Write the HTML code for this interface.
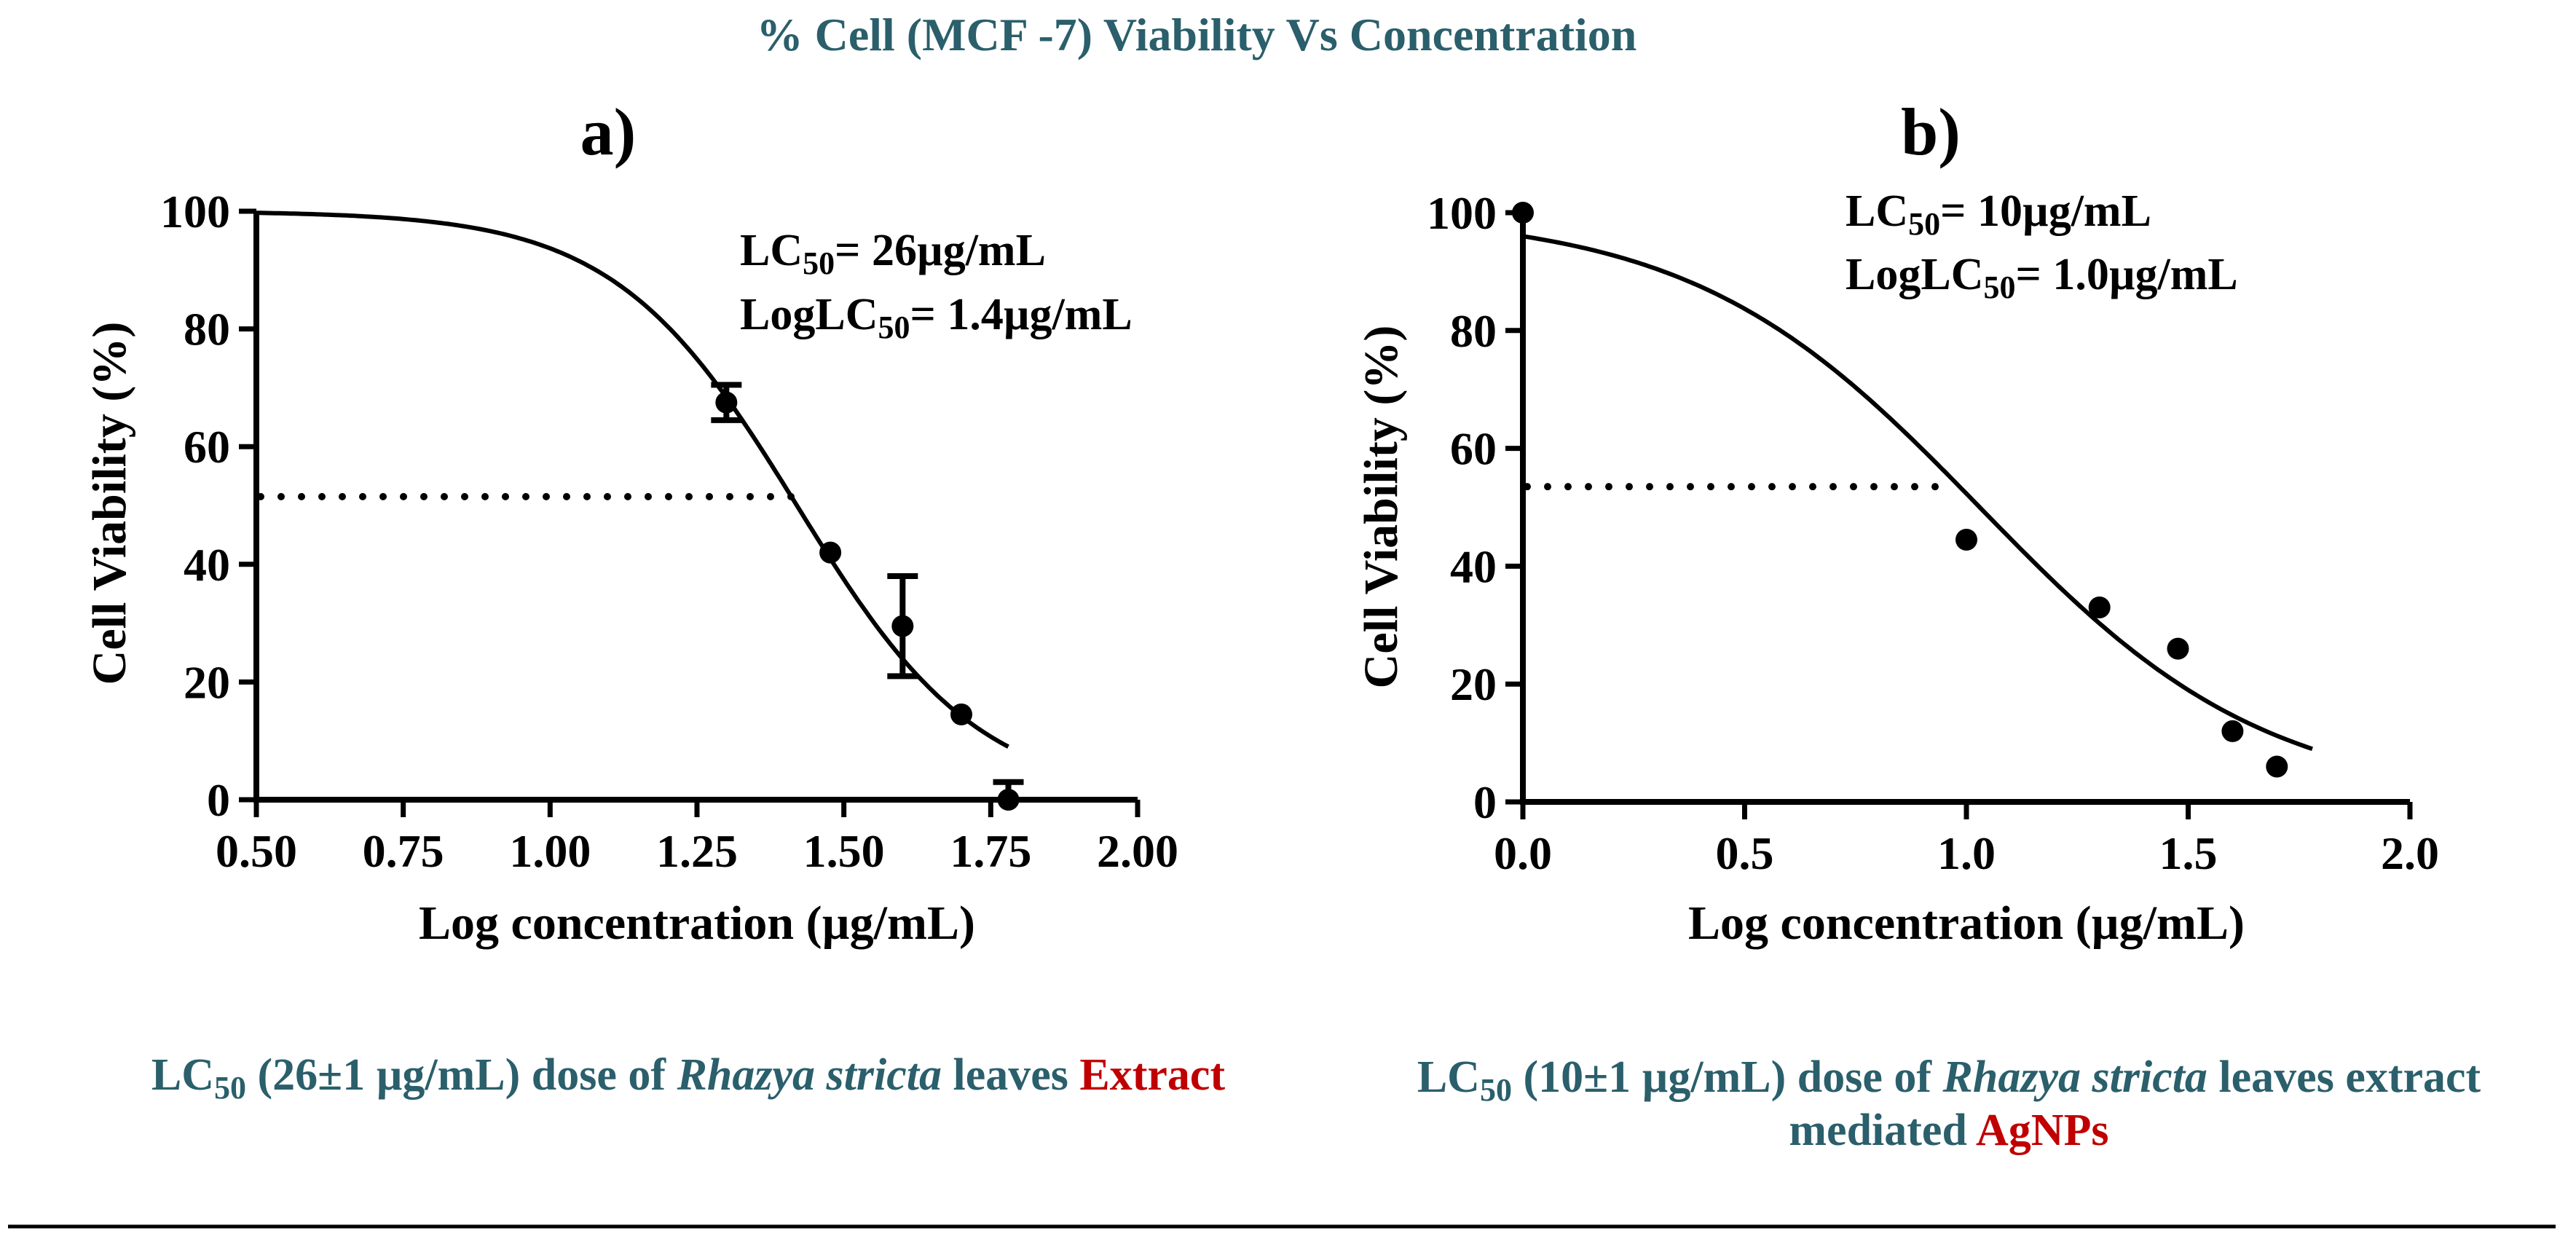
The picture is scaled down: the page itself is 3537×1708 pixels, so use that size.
<!DOCTYPE html>
<html><head><meta charset="utf-8"><style>
html,body{margin:0;padding:0;background:#fff;}
svg, svg text{font-family:"Liberation Serif","Times New Roman",serif;font-weight:bold;}
</style></head><body>
<svg id="fig" width="3537" height="1703" viewBox="0 0 3537 1703" font-family="Liberation Serif, serif" font-weight="bold">
<text x="1643" y="69" text-anchor="middle" font-size="64" fill="#2a5f6b">% Cell (MCF -7) Viability Vs Concentration</text>
<text x="835" y="212" text-anchor="middle" font-size="92" fill="#000">a)</text>
<text x="2651" y="212" text-anchor="middle" font-size="92" fill="#000">b)</text>
<g id="chartA"></g>
<g id="chartB"></g>
<text x="1016" y="364" font-size="62">LC<tspan font-size="44" dy="12">50</tspan><tspan dy="-12">= 26µg/mL</tspan></text>
<text x="1016" y="452" font-size="62">LogLC<tspan font-size="44" dy="12">50</tspan><tspan dy="-12">= 1.4µg/mL</tspan></text>
<text x="2534" y="310" font-size="62">LC<tspan font-size="44" dy="12">50</tspan><tspan dy="-12">= 10µg/mL</tspan></text>
<text x="2534" y="397" font-size="62">LogLC<tspan font-size="44" dy="12">50</tspan><tspan dy="-12">= 1.0µg/mL</tspan></text>
<text x="945" y="1496" text-anchor="middle" font-size="62" fill="#2a5f6b">LC<tspan font-size="44" dy="12">50</tspan><tspan dy="-12"> (26±1 µg/mL) dose of </tspan><tspan font-style="italic">Rhazya stricta</tspan> leaves <tspan fill="#c00000">Extract</tspan></text>
<text x="2676" y="1499" text-anchor="middle" font-size="62" fill="#2a5f6b">LC<tspan font-size="44" dy="12">50</tspan><tspan dy="-12"> (10±1 µg/mL) dose of </tspan><tspan font-style="italic">Rhazya stricta</tspan> leaves extract</text>
<text x="2676" y="1572" text-anchor="middle" font-size="62" fill="#2a5f6b">mediated <tspan fill="#c00000">AgNPs</tspan></text>
<line x1="11" y1="1684" x2="3509" y2="1684" stroke="#000" stroke-width="5"/>
</svg>
<script>
// Panel a data
const aX = [1.30, 1.477, 1.60, 1.70, 1.78];
const aY = [67.5, 42, 29.5, 14.5, 0];
const aErrLo = [64.5, 42, 21, 14.5, 0];
const aErrHi = [70.5, 42, 38, 14.5, 3];
const aTicks = ["0.50","0.75","1.00","1.25","1.50","1.75","2.00"];
const aTickVals = [0.5,0.75,1.0,1.25,1.5,1.75,2.0];
const aFit = [100, 0, 1.42, 2.79]; // top, bottom, logIC50, hill
const aFitRange = [0.5, 1.78];
const aDotY = [51.5];
const aDotX = [0.5, 1.41];
// Panel b data
const bX = [0, 1.0, 1.3, 1.477, 1.6, 1.7];
const bY = [100, 44.5, 33, 26, 12, 6];
const bTicks = ["0.0","0.5","1.0","1.5","2.0"];
const bTickVals = [0,0.5,1.0,1.5,2.0];
const bFit = [100, 0, 1.03, 1.34];
const bFitRange = [0, 1.78];
const bDotY = [53.5];
const bDotX = [0, 0.93];
const yTickVals = [0,20,40,60,80,100];

const NS = "http://www.w3.org/2000/svg";
function mk(tag, attrs, parent){const e=document.createElementNS(NS,tag);for(const k in attrs)e.setAttribute(k,attrs[k]);parent.appendChild(e);return e;}

function draw(g, o){
  const sx = v => o.x0 + (v - o.xmin)/(o.xmax - o.xmin)*(o.x1 - o.x0);
  const sy = v => o.y0 - v/100*(o.y0 - o.y1);
  let ax = mk('path',{d:`M${o.x0},${sy(100)} L${o.x0},${o.y0} L${o.x1},${o.y0}`,fill:'none',stroke:'#000','stroke-width':8},g);
  
  
  o.tv.forEach((v,i)=>{
    const t=mk('line',{x1:sx(v),y1:o.y0,x2:sx(v),y2:o.y0+24,stroke:'#000','stroke-width':7},g);
    
    
    const l=mk('text',{x:sx(v),y:o.y0+92,'text-anchor':'middle','font-size':64},g);
    l.textContent=o.tl[i];
    
    
  });
  yTickVals.forEach(v=>{
    const t=mk('line',{x1:o.x0-24,y1:sy(v),x2:o.x0,y2:sy(v),stroke:'#000','stroke-width':7},g);
    
    
    const l=mk('text',{x:o.x0-36,y:sy(v)+22,'text-anchor':'end','font-size':64},g);
    l.textContent=String(v);
    
    
  });
  const xt=mk('text',{x:(o.x0+o.x1)/2,y:1289,'text-anchor':'middle','font-size':66},g);
  xt.textContent='Log concentration (µg/mL)';
  
  
  const yt=mk('text',{x:0,y:0,'text-anchor':'middle','font-size':66,transform:`translate(${o.ytx},${o.yty}) rotate(-90)`},g);
  yt.textContent='Cell Viability (%)';
  
  
  const dl=mk('line',{x1:sx(o.dx[0])+6,y1:sy(o.dy[0]),x2:sx(o.dx[1]),y2:sy(o.dy[0]),stroke:'#000','stroke-width':10,'stroke-dasharray':'0 28','stroke-linecap':'round'},g);
  
  
  const f=o.fit;let d='';
  for(let i=0;i<=200;i++){const x=o.fr[0]+(o.fr[1]-o.fr[0])*i/200;const y=f[1]+(f[0]-f[1])/(1+Math.pow(10,(x-f[2])*f[3]));d+=(i?'L':'M')+sx(x).toFixed(1)+','+sy(y).toFixed(1);}
  const c=mk('path',{d:d,fill:'none',stroke:'#000','stroke-width':6},g);
  
  
  if(o.lo){o.px.forEach((x,i)=>{
    if(o.hi[i]-o.lo[i]<0.5)return;
    const e=mk('path',{d:`M${sx(x)},${sy(o.lo[i])}L${sx(x)},${sy(o.hi[i])}M${sx(x)-21},${sy(o.lo[i])}L${sx(x)+21},${sy(o.lo[i])}M${sx(x)-21},${sy(o.hi[i])}L${sx(x)+21},${sy(o.hi[i])}`,stroke:'#000','stroke-width':8,fill:'none'},g);
    
    
  });}
  o.px.forEach((x,i)=>{
    const p=mk('circle',{cx:sx(x),cy:sy(o.py[i]),r:15,fill:'#000'},g);
    
    
  });
}
draw(document.getElementById('chartA'),{x0:352,x1:1562,xmin:0.5,xmax:2.0,y0:1098,y1:290,tv:aTickVals,tl:aTicks,px:aX,py:aY,lo:aErrLo,hi:aErrHi,fit:aFit,fr:aFitRange,dx:aDotX,dy:aDotY,ytx:172,yty:691});
draw(document.getElementById('chartB'),{x0:2091,x1:3309,xmin:0,xmax:2.0,y0:1101,y1:292,tv:bTickVals,tl:bTicks,px:bX,py:bY,fit:bFit,fr:bFitRange,dx:bDotX,dy:bDotY,ytx:1918,yty:696});
</script>
</body></html>
